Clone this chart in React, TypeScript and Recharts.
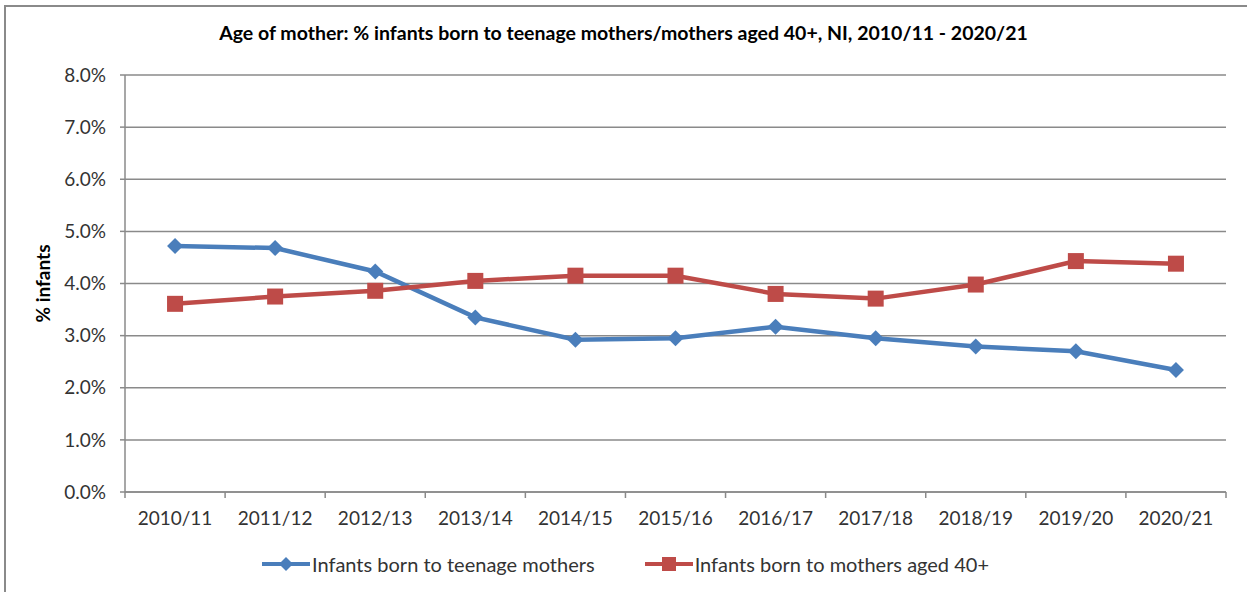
import { CartesianGrid, Legend, Line, LineChart, XAxis, YAxis } from "recharts"

const YEARS = [
  "2010/11",
  "2011/12",
  "2012/13",
  "2013/14",
  "2014/15",
  "2015/16",
  "2016/17",
  "2017/18",
  "2018/19",
  "2019/20",
  "2020/21",
]
const TEENAGE_MOTHERS = [4.72, 4.68, 4.23, 3.35, 2.92, 2.95, 3.17, 2.95, 2.79, 2.70, 2.34]
const MOTHERS_40_PLUS = [3.61, 3.75, 3.86, 4.05, 4.15, 4.15, 3.80, 3.71, 3.98, 4.43, 4.38]
const Y_TICKS = [0, 1, 2, 3, 4, 5, 6, 7, 8]

const TITLE =
  "Age of mother: % infants born to teenage mothers/mothers aged 40+, NI, 2010/11 - 2020/21"
const TEEN_NAME = "Infants born to teenage mothers"
const OLDER_NAME = "Infants born to mothers aged 40+"

const BLUE = "#4A7EBB"
const RED = "#BE4B48"
const GRID = "#8A8A8A"
const TEXT = "#333333"
const FONT = "Lato, 'Liberation Sans', sans-serif"

const data = YEARS.map((year, i) => ({
  year,
  teen: TEENAGE_MOTHERS[i],
  older: MOTHERS_40_PLUS[i],
}))

function Diamond({ cx, cy }: any) {
  if (cx == null || cy == null) return null
  const r = 8
  return (
    <polygon
      points={`${cx},${cy - r} ${cx + r},${cy} ${cx},${cy + r} ${cx - r},${cy}`}
      fill={BLUE}
    />
  )
}

function Square({ cx, cy }: any) {
  if (cx == null || cy == null) return null
  const s = 8
  return <rect x={cx - s} y={cy - s} width={s * 2} height={s * 2} fill={RED} />
}

function CategoryTick({ x, y, payload, index }: any) {
  const half = payload?.offset || 50
  const last = index === YEARS.length - 1
  return (
    <g>
      <line x1={x - half} x2={x - half} y1={y} y2={y + 6} stroke={GRID} strokeWidth={1.5} />
      {last && (
        <line x1={x + half} x2={x + half} y1={y} y2={y + 6} stroke={GRID} strokeWidth={1.5} />
      )}
      <text
        x={x}
        y={y + 28}
        textAnchor="middle"
        dominantBaseline="middle"
        fill={TEXT}
        fontSize={19}
        fontFamily={FONT}
      >
        {payload.value}
      </text>
    </g>
  )
}

function YTitle({ viewBox }: any) {
  const cy = viewBox.y + viewBox.height / 2
  return (
    <text
      x={45}
      y={cy}
      transform={`rotate(-90, 45, ${cy})`}
      textAnchor="middle"
      dominantBaseline="middle"
      fill="#000"
      fontSize={19}
      fontWeight={700}
      fontFamily={FONT}
    >
      % infants
    </text>
  )
}

function LegendKey({ color, marker }: { color: string; marker: "diamond" | "square" }) {
  return (
    <svg width={48} height={20} style={{ display: "block" }}>
      <line x1={0} x2={48} y1={10} y2={10} stroke={color} strokeWidth={4} />
      {marker === "diamond" ? (
        <polygon points="24,3 31,10 24,17 17,10" fill={color} />
      ) : (
        <rect x={17} y={3} width={14} height={14} fill={color} />
      )}
    </svg>
  )
}

function ChartLegend() {
  const item = { display: "flex", alignItems: "center", gap: 2 }
  return (
    <div
      style={{
        height: 45,
        display: "flex",
        justifyContent: "center",
        alignItems: "center",
        gap: 50,
        paddingTop: 9,
        boxSizing: "border-box",
        fontFamily: FONT,
        fontSize: 20,
        color: TEXT,
      }}
    >
      <div style={item}>
        <LegendKey color={BLUE} marker="diamond" />
        <span>{TEEN_NAME}</span>
      </div>
      <div style={item}>
        <LegendKey color={RED} marker="square" />
        <span>{OLDER_NAME}</span>
      </div>
    </div>
  )
}

export default function App() {
  return (
    <div
      style={{
        position: "fixed",
        left: 0,
        top: 0,
        width: 1247,
        height: 592,
        background: "#fff",
        overflow: "hidden",
      }}
    >
      <div
        style={{
          position: "absolute",
          left: 4,
          top: 5,
          width: 1260,
          height: 620,
          border: `2px solid ${GRID}`,
        }}
      />
      <div
        style={{
          position: "absolute",
          left: 0,
          top: 21,
          width: 1247,
          textAlign: "center",
          fontFamily: FONT,
          fontWeight: 700,
          fontSize: 19.5,
          color: "#000",
        }}
      >
        {TITLE}
      </div>
      <div style={{ position: "absolute", left: 0, top: 0 }}>
        <LineChart
          width={1247}
          height={592}
          data={data}
          margin={{ top: 75, right: 21, bottom: 10, left: 25 }}
        >
          <CartesianGrid vertical={false} stroke={GRID} strokeWidth={1.5} />
          <XAxis
            dataKey="year"
            scale="band"
            height={45}
            interval={0}
            tickSize={0}
            tickMargin={0}
            axisLine={{ stroke: GRID, strokeWidth: 1.5 }}
            tickLine={false}
            tick={<CategoryTick />}
          />
          <YAxis
            width={100}
            domain={[0, 8]}
            ticks={Y_TICKS}
            interval={0}
            tickFormatter={(v: number) => `${v.toFixed(1)}%`}
            tickSize={5}
            tickMargin={14}
            axisLine={{ stroke: GRID, strokeWidth: 1.5 }}
            tickLine={{ stroke: GRID, strokeWidth: 1.5 }}
            tick={{ fill: TEXT, fontSize: 19, fontFamily: FONT }}
            label={<YTitle />}
          />
          <Legend verticalAlign="bottom" height={45} content={<ChartLegend />} />
          <Line
            dataKey="teen"
            name={TEEN_NAME}
            stroke={BLUE}
            strokeWidth={4.5}
            dot={<Diamond />}
            activeDot={false}
            isAnimationActive={false}
          />
          <Line
            dataKey="older"
            name={OLDER_NAME}
            stroke={RED}
            strokeWidth={4.5}
            dot={<Square />}
            activeDot={false}
            isAnimationActive={false}
          />
        </LineChart>
      </div>
    </div>
  )
}
